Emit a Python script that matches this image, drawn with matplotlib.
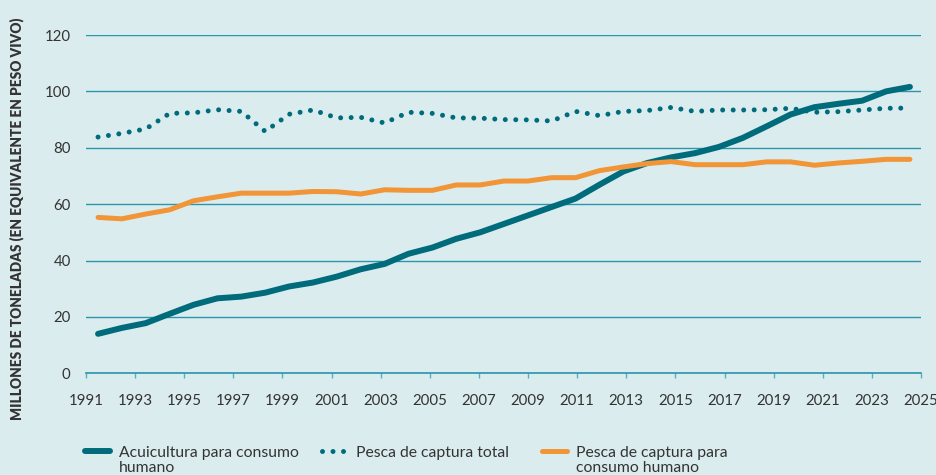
import numpy as np
import matplotlib.pyplot as plt

# 35 evenly spaced observations between the 1991 and 2025 ticks
n_points = 35
x_years = np.linspace(1991.49, 2024.55, n_points)

acuicultura = [14.0, 16.1, 17.8, 21.1, 24.3, 26.6, 27.2, 28.6, 30.8, 32.2,
               34.3, 36.9, 38.8, 42.4, 44.6, 47.7, 50.0, 53.0, 56.0, 59.0,
               62.0, 66.9, 71.6, 74.6, 76.6, 78.1, 80.3, 83.5, 87.6, 91.8,
               94.4, 95.6, 96.7, 100.0, 101.6]
captura_total = [83.8, 85.1, 86.7, 92.2, 92.4, 93.5, 92.9, 85.8, 91.9, 93.4,
                 90.6, 90.8, 88.8, 92.6, 92.2, 90.6, 90.5, 90.0, 89.9, 89.5,
                 92.9, 91.4, 92.9, 93.2, 94.3, 92.9, 93.4, 93.4, 93.5, 94.0,
                 92.6, 92.8, 93.4, 94.0, 94.1]
captura_consumo = [55.3, 54.8, 56.5, 58.0, 61.2, 62.6, 63.9, 63.9, 63.9, 64.5,
                   64.4, 63.6, 65.1, 64.9, 64.9, 66.8, 66.8, 68.2, 68.2, 69.4,
                   69.4, 71.9, 73.2, 74.4, 75.1, 74.0, 74.0, 74.0, 75.0, 75.0,
                   73.8, 74.6, 75.2, 75.9, 75.9]

# legend labels: first line goes in the legend, second line is added under it
label_first = ["Acuicultura para consumo", "Pesca de captura total",
               "Pesca de captura para"]
label_second = ["humano", "", "consumo humano"]
legend_x = [77, 314, 534]  # left edge of each legend entry, pixels
x_ticks = list(range(1991, 2026, 2))
y_ticks = [0, 20, 40, 60, 80, 100, 120]

bg = "#dbecef"
teal = "#006b7b"
orange = "#f19536"
grid_col = "#2a95ab"
text_col = "#333333"

plt.rcParams['font.family'] = ['Lato', 'DejaVu Sans']

W, H = 937, 475
fig = plt.figure(figsize=(W / 100, H / 100), dpi=100, facecolor=bg)
ax = fig.add_axes([0.0918, 0.2141, 0.8911, 0.7122], facecolor=bg)

l_total, = ax.plot(x_years, captura_total, color=teal, linewidth=3.6,
                   linestyle=(0, (0.001, 2.1)), dash_capstyle='round', zorder=2)
l_acui, = ax.plot(x_years, acuicultura, color=teal, linewidth=4.3,
                  solid_capstyle='round', solid_joinstyle='round', zorder=3)
l_cons, = ax.plot(x_years, captura_consumo, color=orange, linewidth=3.6,
                  solid_capstyle='round', solid_joinstyle='round', zorder=4)

ax.set_xlim(1991, 2025)
ax.set_ylim(0, 120)
ax.set_xticks(x_ticks)
ax.set_yticks(y_ticks)
ax.yaxis.grid(True, color=grid_col, linewidth=1.0)
ax.set_axisbelow(True)

for side in ['top', 'right', 'left']:
    ax.spines[side].set_visible(False)
ax.spines['bottom'].set_color(grid_col)
ax.spines['bottom'].set_linewidth(1.2)

ax.tick_params(axis='y', length=0, pad=11, labelsize=10.8, labelcolor=text_col)
ax.tick_params(axis='x', length=3.5, width=1.0, color="#5aaebf", pad=11.5,
               labelsize=10.8, labelcolor=text_col)

fig.text(17 / W, 1 - 219 / H,
         "MILLONES DE TONELADAS (EN EQUIVALENTE EN PESO VIVO)",
         rotation=90, ha='center', va='center', fontsize=9.8,
         fontweight='heavy', color=text_col)

legends = []
for handle, lab, lx in zip([l_acui, l_total, l_cons], label_first, legend_x):
    leg = fig.legend([handle], [lab], loc='upper left',
                     bbox_to_anchor=(lx / W, 1 - 438 / H),
                     frameon=False, fontsize=11.3, handlelength=1.6,
                     handletextpad=0.6, borderpad=0, labelcolor=text_col)
    legends.append(leg)

# second line of the wrapped labels, placed right under the first line
fig.canvas.draw()
renderer = fig.canvas.get_renderer()
for leg, extra in zip(legends, label_second):
    if extra:
        bb = leg.get_texts()[0].get_window_extent(renderer)
        fig.text(bb.x0 / W, (bb.y0 - 1.5) / H, extra, ha='left', va='top',
                 fontsize=11.3, color=text_col)

fig.savefig("out.png", dpi=100, facecolor=bg)
